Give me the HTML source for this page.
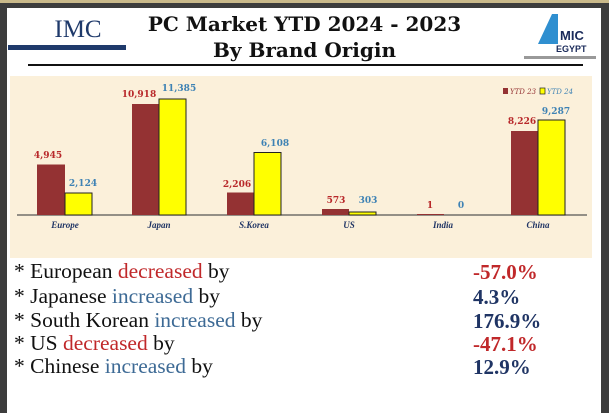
<!DOCTYPE html>
<html><head><meta charset="utf-8"><style>
body{margin:0;width:609px;height:413px;background:#3c3c3c;overflow:hidden;font-family:"Liberation Serif",serif}
#p{position:absolute;left:7px;top:8px;width:594px;height:405px;background:#fff}
.t{position:absolute;left:0;width:609px;text-align:center;font-family:"DejaVu Serif","Liberation Serif",serif;font-weight:bold;font-size:20px;color:#111}
.l{position:absolute;left:14px;font-size:21.5px;color:#111;white-space:nowrap}
.v{position:absolute;left:473px;font-weight:bold;font-family:"Liberation Serif",serif;font-size:21px}
.r{color:#c0282a}.b{color:#3d6a95}.n{color:#1f3464}
</style></head><body>
<div style="position:absolute;left:0;top:0;width:609px;height:3px;background:#c9b98a"></div>
<div id="p"></div>
<div class="t" style="top:12px">PC Market YTD 2024 - 2023</div>
<div class="t" style="top:38px">By Brand Origin</div>
<div style="position:absolute;left:28px;top:16px;width:100px;text-align:center;font-size:25px;color:#1f3a6b">IMC</div>
<div style="position:absolute;left:8px;top:45px;width:118px;height:5px;background:#1f3a6b"></div>
<div style="position:absolute;left:28px;top:64px;width:555px;height:2px;background:#111"></div>
<svg style="position:absolute;left:520px;top:12px" width="80" height="52">
<polygon points="18,32 32,2 38,2 38,32" fill="#2f8fd0"/>
<text x="40" y="28" font-family="Liberation Sans" font-weight="bold" font-size="13" fill="#1a2a5a">MIC</text>
<text x="36" y="40" font-family="Liberation Sans" font-weight="bold" font-size="9" fill="#1a2a5a">EGYPT</text>
<rect x="4" y="44" width="72" height="3" fill="#999"/>
</svg>
<svg style="position:absolute;left:0;top:0" width="609" height="413" font-family="DejaVu Serif" font-weight="bold" font-size="9">
<rect x="10" y="76" width="582" height="182" fill="#fbf0da"/>
<line x1="17" y1="215" x2="587" y2="215" stroke="#555" stroke-width="1.2"/>
<g fill="#943233">
<rect x="37" y="164.5" width="28" height="50.5"/><rect x="132" y="104" width="27" height="111"/>
<rect x="227" y="192.5" width="27" height="22.5"/><rect x="322" y="209" width="27" height="6"/>
<rect x="417" y="214" width="27" height="1"/><rect x="511" y="131" width="27" height="84"/></g>
<g fill="#ffff00" stroke="#222" stroke-width="1">
<rect x="65" y="193" width="27" height="22"/><rect x="159" y="99" width="27" height="116"/>
<rect x="254" y="152.5" width="27" height="62.5"/><rect x="349" y="212" width="27" height="3"/>
<rect x="538" y="120" width="27" height="95"/></g>
<g fill="#b8282a" text-anchor="middle">
<text x="48" y="158">4,945</text><text x="139" y="97">10,918</text><text x="237" y="187">2,206</text>
<text x="336" y="203">573</text><text x="430" y="208">1</text><text x="522" y="124">8,226</text></g>
<g fill="#3e82b4" text-anchor="middle">
<text x="83" y="186">2,124</text><text x="179" y="91">11,385</text><text x="275" y="146">6,108</text>
<text x="368" y="203">303</text><text x="461" y="208">0</text><text x="556" y="114">9,287</text></g>
<g fill="#1f3464" font-style="italic" text-anchor="middle" font-family="Liberation Serif" font-size="9">
<text x="65" y="228">Europe</text><text x="159" y="228">Japan</text><text x="254" y="228">S.Korea</text>
<text x="349" y="228">US</text><text x="443" y="228">India</text><text x="538" y="228">China</text></g>
<rect x="503" y="88" width="5" height="6" fill="#943233"/>
<text x="510" y="94" font-size="7" font-style="italic" font-weight="normal" fill="#943233">YTD 23</text>
<rect x="540" y="88" width="5" height="6" fill="#ff0" stroke="#222" stroke-width=".7"/>
<text x="547" y="94" font-size="7" font-style="italic" font-weight="normal" fill="#3e82b4">YTD 24</text>
</svg>
<div class="l" style="top:259px">* European <span class="r">decreased</span> by</div>
<div class="l" style="top:284px">* Japanese <span class="b">increased</span> by</div>
<div class="l" style="top:308px">* South Korean <span class="b">increased</span> by</div>
<div class="l" style="top:331px">* US <span class="r">decreased</span> by</div>
<div class="l" style="top:354px">* Chinese <span class="b">increased</span> by</div>
<div class="v r" style="top:260px">-57.0%</div>
<div class="v n" style="top:285px">4.3%</div>
<div class="v n" style="top:309px">176.9%</div>
<div class="v r" style="top:332px">-47.1%</div>
<div class="v n" style="top:355px">12.9%</div>
</body></html>
